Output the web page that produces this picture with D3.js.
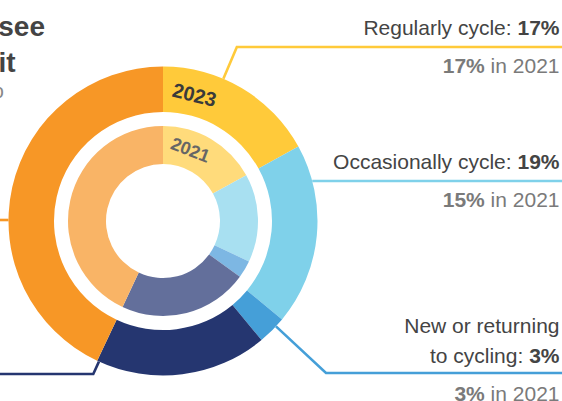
<!DOCTYPE html>
<html>
<head>
<meta charset="utf-8">
<script src="https://cdn.jsdelivr.net/npm/d3@7"></script>
<style>
  html, body { margin: 0; padding: 0; background: #fff; }
  svg { display: block; font-family: "Liberation Sans", Arial, sans-serif; }
</style>
</head>
<body>
<svg id="chart" width="562" height="401"></svg>
<script>
// Share of people in each cycling group, outer ring 2023, inner ring 2021
const categories = ["Regularly cycle", "Occasionally cycle", "New or returning to cycling", "Would like to cycle", "Do not cycle"];
const values2023 = [17, 19, 3, 18, 43];
const values2021 = [17, 15, 3, 22, 43];
const years = ["2023", "2021"];

const colors2023 = ["#ffca3a", "#7fd1ea", "#459fd8", "#253670", "#f79726"];
const colors2021 = ["#ffdb7b", "#a8e0f1", "#7db7e3", "#636f9b", "#f9b466"];

const W = 562, H = 401;
const cx = 163, cy = 221;
const outerRing = { inner: 109, outer: 154.5 };
const innerRing = { inner: 57, outer: 95 };

const svg = d3.select("#chart");
const g = svg.append("g").attr("transform", `translate(${cx},${cy})`);

const pie = d3.pie().sort(null).value(d => d);
const deg = Math.PI / 180;

function ring(values, colors, radii) {
  const arc = d3.arc().innerRadius(radii.inner).outerRadius(radii.outer);
  g.append("g").selectAll("path")
    .data(pie(values))
    .join("path")
    .attr("d", arc)
    .attr("fill", (d, i) => colors[i]);
}
ring(values2023, colors2023, outerRing);
ring(values2021, colors2021, innerRing);

// Year labels set inside the first slice of each ring
function yearLabel(text, angle, r, size, fill) {
  const x = r * Math.sin(angle * deg), y = -r * Math.cos(angle * deg);
  g.append("text")
    .attr("transform", `translate(${x},${y}) rotate(${angle})`)
    .attr("text-anchor", "middle")
    .attr("font-size", size)
    .attr("font-weight", "bold")
    .attr("fill", fill)
    .text(text);
}
yearLabel(years[0], 14, 123, 20, "#3a3a3a");
yearLabel(years[1], 21, 70, 18, "#666666");

// Leader lines: leave the ring radially at `angle`, then run flat at `y` to the page edge
const leaders = [
  { i: 0, angle: 23, y: 47, side: 1 },
  { i: 1, angle: null, y: 181, side: 1 },
  { i: 2, angle: 133, y: 373, side: 1 },
  { i: 3, angle: 204.5, y: 374, side: -1 },
  { i: 4, angle: null, y: 220, side: -1 }
];
const R = outerRing.outer;
leaders.forEach(l => {
  const pts = [];
  const ly = l.y - cy;
  if (l.angle === null) {
    const dx = Math.sqrt(R * R - ly * ly) * l.side;
    pts.push([dx, ly]);
  } else {
    const a = l.angle * deg;
    const ux = Math.sin(a), uy = -Math.cos(a);
    const p0 = [R * ux, R * uy];
    const t = (ly - p0[1]) / uy;
    pts.push(p0, [p0[0] + t * ux, ly]);
  }
  pts.push([l.side > 0 ? W - cx : -cx, ly]);
  g.append("path")
    .attr("d", d3.line()(pts))
    .attr("fill", "none")
    .attr("stroke", colors2023[l.i])
    .attr("stroke-width", 2.6);
});

// Right-hand labels
const labelX = 559.5;
function label(lines, baselines, valueIdx) {
  lines.forEach((line, k) => {
    const t = svg.append("text")
      .attr("x", labelX).attr("y", baselines[k])
      .attr("text-anchor", "end")
      .attr("font-size", 21)
      .attr("fill", "#444");
    t.append("tspan").text(line);
    if (k === lines.length - 1) {
      t.append("tspan").attr("font-weight", "bold").text(values2023[valueIdx] + "%");
    }
  });
  const s = svg.append("text")
    .attr("x", labelX).attr("y", baselines[baselines.length - 1] + 38)
    .attr("text-anchor", "end")
    .attr("font-size", 21)
    .attr("fill", "#7a7a7a");
  s.append("tspan").attr("font-weight", "bold").text(values2021[valueIdx] + "%");
  s.append("tspan").text(" in " + years[1]);
}
label(["Regularly cycle: "], [35], 0);
label(["Occasionally cycle: "], [169], 1);
label(["New or returning", "to cycling: "], [333, 363], 2);

// Heading text running in from the left
const head = svg.append("g").attr("font-weight", "bold").attr("fill", "#444").attr("font-size", 28);
head.append("text").attr("x", 45).attr("y", 36).attr("text-anchor", "end").text("see");
head.append("text").attr("x", 15.5).attr("y", 72).attr("text-anchor", "end").text("it");
svg.append("text").attr("x", 4).attr("y", 98).attr("text-anchor", "end")
  .attr("font-size", 20).attr("fill", "#888").text("to");
</script>
</body>
</html>
